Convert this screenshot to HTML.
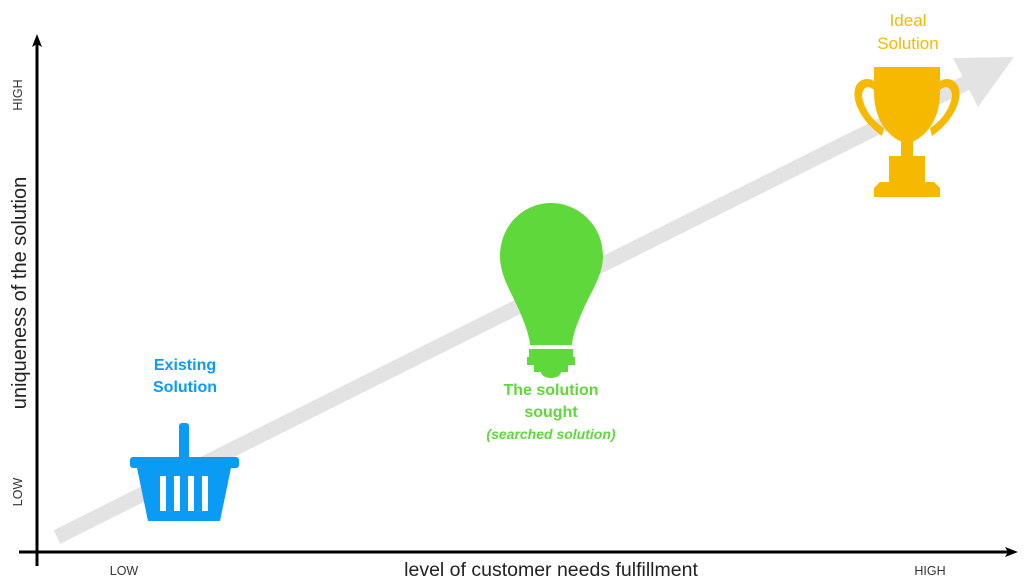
<!DOCTYPE html>
<html><head><meta charset="utf-8"><style>
html,body{margin:0;padding:0;background:#fff;}
svg{display:block;font-family:"Liberation Sans",sans-serif;}
</style></head><body>
<svg width="1024" height="586" viewBox="0 0 1024 586" xmlns="http://www.w3.org/2000/svg">
<line x1="57" y1="537" x2="968" y2="82" stroke="#e3e3e3" stroke-width="15"/>
<polygon points="1014,57 953,58 978,107" fill="#e3e3e3"/>
<line x1="37" y1="42" x2="37" y2="566" stroke="#000" stroke-width="3"/>
<polygon points="37,34 32,47 37,44 42,47" fill="#000"/>
<line x1="19" y1="552" x2="1008" y2="552" stroke="#000" stroke-width="3"/>
<polygon points="1018,552 1005,547 1008,552 1005,557" fill="#000"/>
<text x="551" y="576" font-size="19.5" text-anchor="middle" fill="#222">level of customer needs fulfillment</text>
<text x="124" y="575" font-size="12.5" text-anchor="middle" fill="#333">LOW</text>
<text x="930" y="575" font-size="12.5" text-anchor="middle" fill="#333">HIGH</text>
<text transform="translate(26,293) rotate(-90)" font-size="20" text-anchor="middle" fill="#222">uniqueness of the solution</text>
<text transform="translate(22,492) rotate(-90)" font-size="12.5" text-anchor="middle" fill="#333">LOW</text>
<text transform="translate(22,95) rotate(-90)" font-size="12.5" text-anchor="middle" fill="#333">HIGH</text>
<g fill="#f7b900">
<text x="908" y="26" font-size="17" text-anchor="middle">Ideal</text>
<text x="908" y="49" font-size="17" text-anchor="middle">Solution</text>
<path d="M874,67 H940 V92 C940,118 928,135 912,142 H902 C886,135 874,118 874,92 Z"/>
<path d="M882,136 C862,122 850,100 856,86 C861,76 874,78 876,84 L874,90 C868,84 862,88 862,96 C864,110 874,122 884,128 Z"/>
<path d="M932,136 C952,122 964,100 958,86 C953,76 940,78 938,84 L940,90 C946,84 952,88 952,96 C950,110 940,122 930,128 Z"/>
<rect x="901" y="138" width="12" height="20"/>
<rect x="889" y="156" width="36" height="27"/>
<polygon points="880,182 934,182 940,188 940,197 874,197 874,188"/>
</g>
<g fill="#5ed83b">
<path d="M551,203 C578,203 603,225 603,256 C603,275 592,290 583,310 C576,326 573,335 572,345 H530 C529,335 526,326 519,310 C510,290 500,275 500,256 C500,225 524,203 551,203 Z"/>
<path d="M529,349 H573 V357 H575 V365 H568 V372 H534 V365 H527 V357 H529 Z"/>
<ellipse cx="551" cy="372" rx="10" ry="6"/>
<text x="551" y="395" font-size="16" font-weight="bold" text-anchor="middle">The solution</text>
<text x="551" y="417" font-size="16" font-weight="bold" text-anchor="middle">sought</text>
<text x="551" y="439" font-size="14" font-weight="bold" font-style="italic" text-anchor="middle">(searched solution)</text>
</g>
<g fill="#0a9cf5">
<text x="185" y="370" font-size="16" font-weight="bold" text-anchor="middle">Existing</text>
<text x="185" y="392" font-size="16" font-weight="bold" text-anchor="middle">Solution</text>
<rect x="179" y="423" width="10" height="40" rx="3"/>
<rect x="130" y="457" width="109" height="11" rx="3"/>
<polygon points="137,468 231,468 220,521 148,521"/>
</g>
<g fill="#fff">
<rect x="160" y="476" width="6" height="35"/>
<rect x="174" y="476" width="6" height="35"/>
<rect x="188" y="476" width="6" height="35"/>
<rect x="202" y="476" width="6" height="35"/>
</g>
</svg>
</body></html>
